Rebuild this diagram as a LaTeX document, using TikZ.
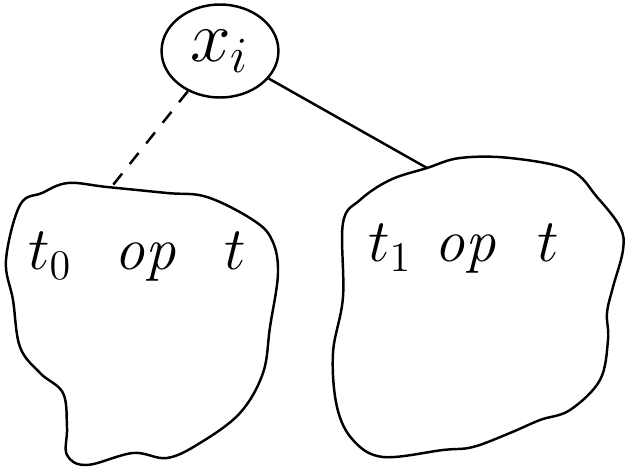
\documentclass[tikz,border=0pt]{standalone}
\usepackage{amsmath}
\usetikzlibrary{shapes.geometric}
\tikzset{
  blob/.style={line width=0.7pt,line join=round},
  word/.style={font=\LARGE,anchor=base,inner sep=0pt},
}
\begin{document}
\begin{tikzpicture}[x=0.1mm,y=-0.1mm,line width=0.7pt]
 \useasboundingbox (0,0) rectangle (628,470);
 \node[draw,ellipse,minimum width=9mm,minimum height=7.8mm,font=\huge] (xi) at (220,51) {$x_i$};
 % left subtree t0
 \draw[blob] plot[smooth cycle,tension=0.6] coordinates {(107,187) (167,193) (207,197) (253,220) (272,240) (278,273) (270,327) (263,373) (240,413) (200,443) (167,458) (133,453) (87,465) (67,455) (67,427) (63,393) (40,373) (20,347) (13,300) (6,260) (20,205) (42,193) (68,183)};
 \coordinate (top0) at (113,185);
 \node[word] (lt0) at (50,270) {$t_0$};
 \node[word] (lop) at (147,270) {$\mathit{op}$};
 \node[word] (lt) at (235,270) {$t$};
 % right subtree t1
 \draw[blob] plot[smooth cycle,tension=0.6] coordinates {(427,168) (460,158) (510,158) (570,170) (597,197) (620,227) (623,250) (613,287) (607,313) (608,340) (600,380) (570,410) (540,420) (510,433) (473,447) (443,450) (383,457) (353,440) (337,407) (333,353) (343,297) (343,223) (360,200) (390,180)};
 \coordinate (top1) at (427,168);
 \node[word] (rt1) at (390,262) {$t_1$};
 \node[word] (rop) at (467,262) {$\mathit{op}$};
 \node[word] (rt) at (548,262) {$t$};
 % edges
 \draw[dash pattern=on 4pt off 3.5pt] (xi) -- (top0);
 \draw (xi) -- (top1);
\end{tikzpicture}
\end{document}
